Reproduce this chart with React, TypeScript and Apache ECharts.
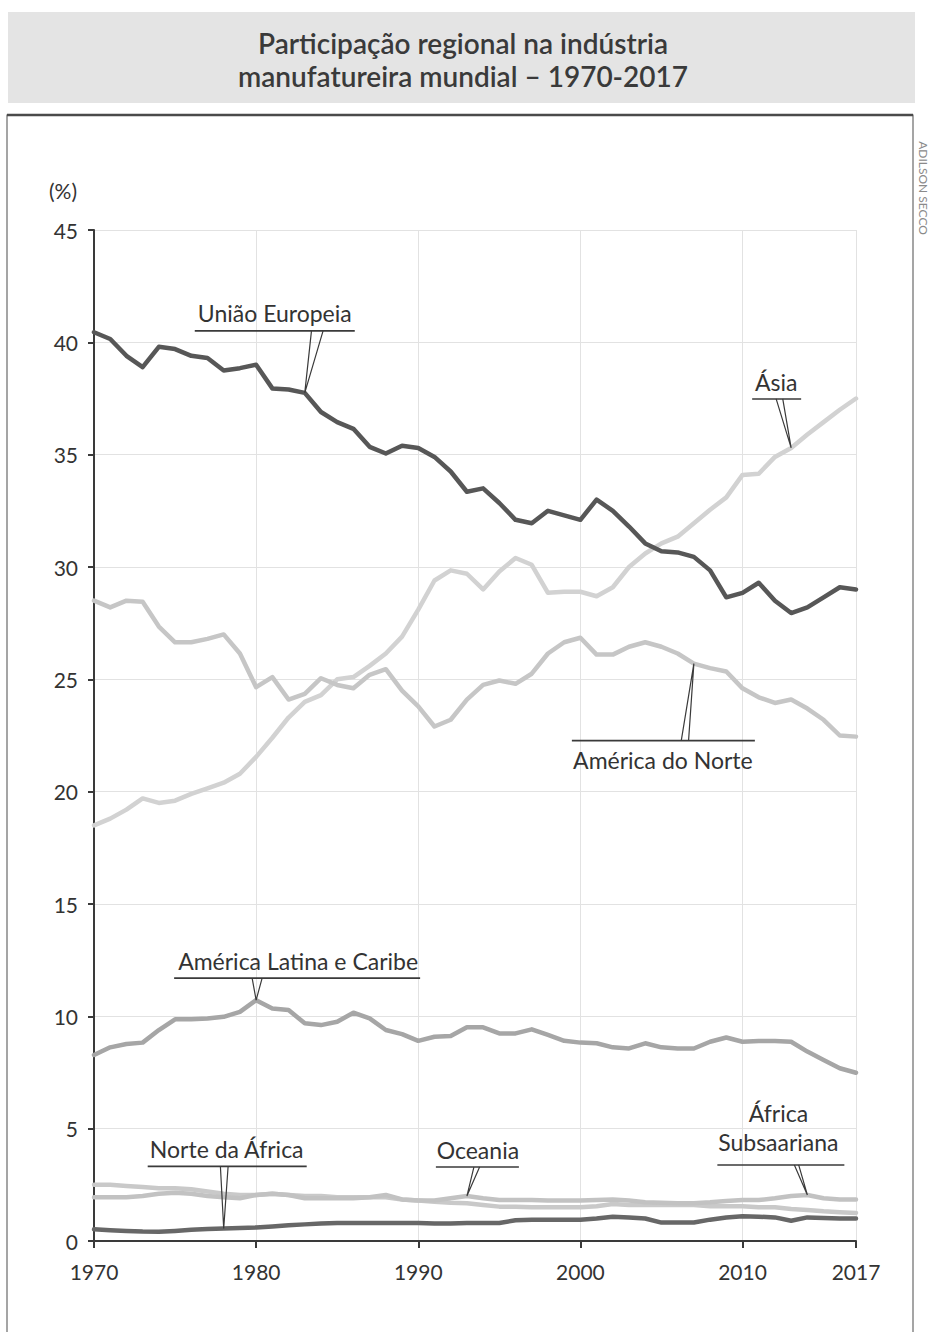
import React, { useEffect, useRef } from "react";
import * as echarts from "echarts";

const years: number[] = Array.from({ length: 48 }, (_, i) => 1970 + i);

const uniaoEuropeia = [
  40.45, 40.15, 39.4, 38.9, 39.8, 39.7, 39.4, 39.3, 38.75, 38.85,
  39.0, 37.95, 37.9, 37.75, 36.9, 36.45, 36.15, 35.35, 35.05, 35.4,
  35.3, 34.9, 34.25, 33.35, 33.5, 32.85, 32.1, 31.95, 32.5, 32.3,
  32.1, 33.0, 32.5, 31.8, 31.05, 30.7, 30.65, 30.45, 29.85, 28.65,
  28.85, 29.3, 28.5, 27.95, 28.2, 28.65, 29.1, 29.0,
];
const asia = [
  18.5, 18.8, 19.2, 19.7, 19.5, 19.6, 19.9, 20.15, 20.4, 20.8,
  21.55, 22.4, 23.3, 24.0, 24.3, 25.0, 25.1, 25.6, 26.15, 26.9,
  28.1, 29.4, 29.85, 29.7, 29.0, 29.8, 30.4, 30.1, 28.85, 28.9,
  28.9, 28.7, 29.1, 30.0, 30.6, 31.05, 31.35, 31.95, 32.55, 33.1,
  34.1, 34.15, 34.9, 35.3, 35.9, 36.45, 37.0, 37.5,
];
const americaDoNorte = [
  28.5, 28.2, 28.5, 28.45, 27.35, 26.65, 26.65, 26.8, 27.0, 26.15,
  24.65, 25.1, 24.1, 24.35, 25.05, 24.75, 24.6, 25.2, 25.45, 24.5,
  23.8, 22.9, 23.2, 24.1, 24.75, 24.95, 24.8, 25.25, 26.15, 26.65,
  26.85, 26.1, 26.1, 26.45, 26.65, 26.45, 26.15, 25.7, 25.5, 25.35,
  24.6, 24.2, 23.95, 24.1, 23.7, 23.2, 22.5, 22.45,
];
const americaLatina = [
  8.28, 8.62, 8.77, 8.83, 9.39, 9.87, 9.87, 9.9, 9.98, 10.2,
  10.72, 10.35, 10.28, 9.69, 9.61, 9.76, 10.16, 9.91, 9.39, 9.21,
  8.91, 9.09, 9.12, 9.51, 9.51, 9.24, 9.24, 9.42, 9.17, 8.91,
  8.83, 8.8, 8.62, 8.57, 8.8, 8.62, 8.57, 8.57, 8.87, 9.06,
  8.87, 8.9, 8.9, 8.87, 8.43, 8.06, 7.69, 7.49,
];
const oceania = [
  2.5, 2.5, 2.45, 2.4, 2.35, 2.35, 2.3, 2.2, 2.1, 2.05,
  2.05, 2.1, 2.05, 2.0, 2.0, 1.95, 1.95, 1.95, 1.95, 1.85,
  1.8, 1.75, 1.7, 1.68, 1.6, 1.53, 1.52, 1.5, 1.5, 1.5,
  1.5, 1.55, 1.65, 1.6, 1.6, 1.6, 1.6, 1.6, 1.55, 1.55,
  1.55, 1.5, 1.5, 1.42, 1.38, 1.32, 1.28, 1.25,
];
const africaSubsaariana = [
  1.95, 1.95, 1.95, 2.0, 2.1, 2.15, 2.1, 2.0, 1.95, 1.9,
  2.05, 2.1, 2.05, 1.9, 1.9, 1.9, 1.9, 1.95, 2.05, 1.85,
  1.8, 1.8, 1.9, 2.0, 1.9, 1.83, 1.82, 1.82, 1.8, 1.8,
  1.8, 1.83, 1.85, 1.8, 1.72, 1.7, 1.68, 1.68, 1.72, 1.78,
  1.82, 1.82, 1.9, 2.0, 2.05, 1.9, 1.85, 1.85,
];
const norteDaAfrica = [
  0.52, 0.48, 0.45, 0.42, 0.41, 0.45, 0.5, 0.53, 0.56, 0.58,
  0.6, 0.65, 0.7, 0.74, 0.78, 0.8, 0.8, 0.8, 0.8, 0.8,
  0.8, 0.78, 0.78, 0.8, 0.8, 0.8, 0.92, 0.95, 0.95, 0.95,
  0.95, 1.0, 1.08, 1.05, 1.0, 0.82, 0.82, 0.82, 0.95, 1.05,
  1.1, 1.08, 1.05, 0.9, 1.05, 1.02, 1.0, 1.0,
];

const xLabelValues = [1970, 1980, 1990, 2000, 2010, 2017];
const titleLines = ["Participação regional na indústria", "manufatureira mundial – 1970-2017"];

const FONT = "Lato, 'Open Sans', sans-serif";

type Callout = {
  lines: string[];
  data: number[];
  year: number;
  lineDy: number;
  lineX: [number, number];
  base: [number, number];
  textDx: number;
  textDy: number[];
};

const callouts: Callout[] = [
  { lines: ["União Europeia"], data: uniaoEuropeia, year: 1983, lineDy: -62, lineX: [-110, 50], base: [6.7, 18.3], textDx: -30, textDy: [-18] },
  { lines: ["Ásia"], data: asia, year: 2013, lineDy: -49, lineX: [-39, 10], base: [-15, -8.4], textDx: -15, textDy: [-17] },
  { lines: ["América do Norte"], data: americaDoNorte, year: 2007, lineDy: 77, lineX: [-122, 61], base: [-12.6, -5.3], textDx: -31, textDy: [19] },
  { lines: ["América Latina e Caribe"], data: americaLatina, year: 1980, lineDy: -22, lineX: [-82, 164], base: [-4, 6], textDx: 42, textDy: [-17] },
  { lines: ["Norte da África"], data: norteDaAfrica, year: 1978, lineDy: -62, lineX: [-76, 83], base: [-3.3, 4.4], textDx: 3, textDy: [-17] },
  { lines: ["Oceania"], data: africaSubsaariana, year: 1993, lineDy: -29, lineX: [-31, 52], base: [7, 12.7], textDx: 11, textDy: [-17] },
  { lines: ["África", "Subsaariana"], data: africaSubsaariana, year: 2014, lineDy: -30, lineX: [-90, 37], base: [-13, -8.7], textDx: -29, textDy: [-52, -23] },
];

function lineSeries(name: string, values: number[], color: string, z: number) {
  return {
    name,
    type: "line",
    data: years.map((y, i) => [y, values[i]]),
    showSymbol: false,
    symbol: "none",
    lineStyle: { color, width: 4.5, cap: "round", join: "round" },
    z,
    silent: true,
  };
}

export default function App() {
  const ref = useRef<HTMLDivElement>(null);
  useEffect(() => {
    document.body.style.margin = "0";
    if (!ref.current) return;
    const chart = echarts.init(ref.current, null, { renderer: "svg" });
    const option: any = {
      animation: false,
      backgroundColor: "#ffffff",
      grid: { left: 94, top: 230, right: 77, bottom: 91, containLabel: false },
      xAxis: {
        type: "value",
        min: 1970,
        max: 2017,
        interval: 5,
        axisLine: { show: true, lineStyle: { color: "#3a3a3a", width: 2 } },
        axisTick: { show: true, customValues: xLabelValues, length: 7, lineStyle: { color: "#3a3a3a", width: 2 } },
        axisLabel: {
          customValues: xLabelValues,
          formatter: (v: number) => String(v),
          color: "#333",
          fontSize: 21,
          fontFamily: FONT,
          margin: 20,
        },
        splitLine: { show: true, lineStyle: { color: "#e2e2e2", width: 1 } },
      },
      yAxis: {
        type: "value",
        min: 0,
        max: 45,
        interval: 5,
        axisLine: { show: true, lineStyle: { color: "#3a3a3a", width: 2 } },
        axisTick: { show: true, length: 6, lineStyle: { color: "#3a3a3a", width: 2 } },
        axisLabel: { color: "#333", fontSize: 21, fontFamily: FONT, margin: 16 },
        splitLine: { show: true, lineStyle: { color: "#e2e2e2", width: 1 } },
      },
      series: [
        lineSeries("Oceania", oceania, "#c9c9c9", 2),
        lineSeries("África Subsaariana", africaSubsaariana, "#c2c2c2", 2),
        lineSeries("Ásia", asia, "#d2d2d2", 2),
        lineSeries("América do Norte", americaDoNorte, "#c6c6c6", 2),
        lineSeries("América Latina e Caribe", americaLatina, "#a6a6a6", 3),
        lineSeries("Norte da África", norteDaAfrica, "#676767", 4),
        lineSeries("União Europeia", uniaoEuropeia, "#575757", 5),
      ],
    };
    chart.setOption(option);

    const graphics: any[] = [
      { type: "rect", shape: { x: 8, y: 12, width: 907, height: 91 }, style: { fill: "#e4e4e4" }, z: -10, silent: true },
      {
        type: "text",
        x: 463,
        y: 43,
        style: { text: titleLines[0], fill: "#3a3a3a", font: `600 28px ${FONT}`, align: "center", verticalAlign: "middle" },
      },
      {
        type: "text",
        x: 463,
        y: 76,
        style: { text: titleLines[1], fill: "#3a3a3a", font: `600 28px ${FONT}`, align: "center", verticalAlign: "middle" },
      },
      { type: "rect", shape: { x: 7, y: 115, width: 906, height: 1240 }, style: { fill: "none", stroke: "#6a6a6a", lineWidth: 1.2 }, silent: true },
      { type: "line", shape: { x1: 7, y1: 115, x2: 913, y2: 115 }, style: { stroke: "#4a4a4a", lineWidth: 2.5 }, silent: true },
      {
        type: "text",
        x: 923,
        y: 188,
        rotation: -Math.PI / 2,
        style: { text: "ADILSON SECCO", fill: "#8a8a8a", font: `12px ${FONT}`, align: "center", verticalAlign: "middle" },
      },
      {
        type: "text",
        x: 63,
        y: 190,
        style: { text: "(%)", fill: "#333", font: `21px ${FONT}`, align: "center", verticalAlign: "middle" },
      },
    ];

    callouts.forEach((c) => {
      const idx = years.indexOf(c.year);
      const tip = chart.convertToPixel({ xAxisIndex: 0, yAxisIndex: 0 }, [c.year, c.data[idx]]) as number[];
      const tx = tip[0];
      const ty = tip[1];
      const ly = ty + c.lineDy;
      graphics.push({
        type: "line",
        shape: { x1: tx + c.lineX[0], y1: ly, x2: tx + c.lineX[1], y2: ly },
        style: { stroke: "#3a3a3a", lineWidth: 1.6 },
        z: 20,
        silent: true,
      });
      graphics.push({
        type: "polyline",
        shape: { points: [[tx + c.base[0], ly], [tx, ty], [tx + c.base[1], ly]] },
        style: { stroke: "#3a3a3a", lineWidth: 1.2, fill: "none" },
        z: 20,
        silent: true,
      });
      c.lines.forEach((t, k) => {
        graphics.push({
          type: "text",
          x: tx + c.textDx,
          y: ly + c.textDy[k],
          z: 20,
          style: { text: t, fill: "#333", font: `23px ${FONT}`, align: "center", verticalAlign: "middle" },
        });
      });
    });

    chart.setOption({ graphic: graphics });
    return () => chart.dispose();
  }, []);
  return <div ref={ref} style={{ width: 933, height: 1332 }} />;
}
